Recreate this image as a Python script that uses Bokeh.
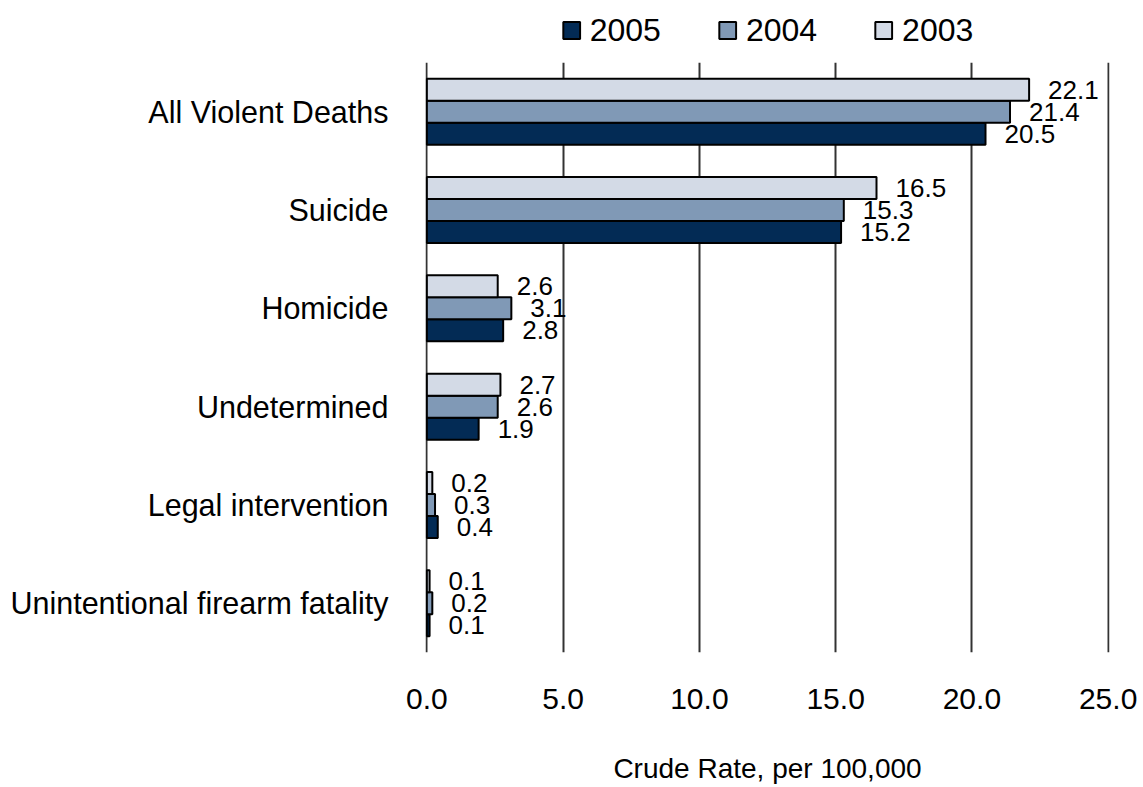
from bokeh.plotting import figure
from bokeh.layouts import column
from bokeh.models import (ColumnDataSource, FactorRange, Legend, LegendItem,
                          FixedTicker, NumeralTickFormatter, Range1d)
from bokeh.transform import dodge
from bokeh.core.properties import value
from bokeh.embed import file_html
from bokeh.resources import INLINE

categories = ["All Violent Deaths", "Suicide", "Homicide", "Undetermined",
              "Legal intervention", "Unintentional firearm fatality"]
years = ["2005", "2004", "2003"]
v2005 = [20.5, 15.2, 2.8, 1.9, 0.4, 0.1]
v2004 = [21.4, 15.3, 3.1, 2.6, 0.3, 0.2]
v2003 = [22.1, 16.5, 2.6, 2.7, 0.2, 0.1]
x_ticks = [0, 5, 10, 15, 20, 25]

colors = {"2005": "#032B55", "2004": "#8099B6", "2003": "#D3DAE6"}
offsets = {"2005": -0.224, "2004": 0.0, "2003": 0.224}
FONT = "Liberation Sans"
W = 1143
LEFT, RIGHT = 425, 34

src = ColumnDataSource(dict(
    cat=categories,
    v2005=v2005, v2004=v2004, v2003=v2003,
    l2005=[f"{v:.1f}" for v in v2005],
    l2004=[f"{v:.1f}" for v in v2004],
    l2003=[f"{v:.1f}" for v in v2003],
))

xr = Range1d(-0.05, 25.05)
yr = FactorRange(*reversed(categories))

# ---- main chart ----
p = figure(width=W, height=725, y_range=yr, x_range=xr,
           output_backend="svg", toolbar_location=None,
           min_border_left=LEFT, min_border_right=RIGHT,
           min_border_top=0, min_border_bottom=135)

for y in years:
    ydodge = dodge("cat", offsets[y], range=yr)
    p.hbar(y=ydodge, left=0, right="v" + y, height=0.224,
           fill_color=colors[y], line_color="black", line_width=2,
           source=src)
    p.text(x="v" + y, y=ydodge, text="l" + y, source=src,
           x_offset=19, text_align="left", text_baseline="middle",
           text_font=value(FONT), text_font_size="26px", text_color="black")

p.xaxis.ticker = FixedTicker(ticks=x_ticks)
p.xaxis.formatter = NumeralTickFormatter(format="0.0")
p.xaxis.axis_label = "Crude Rate, per 100,000"
p.xaxis.axis_label_text_font = FONT
p.xaxis.axis_label_text_font_size = "28px"
p.xaxis.axis_label_text_font_style = "normal"
p.xaxis.axis_label_standoff = 41
p.xaxis.major_label_text_font = FONT
p.xaxis.major_label_text_font_size = "30px"
p.xaxis.major_label_standoff = 36

p.yaxis.major_label_text_font = FONT
p.yaxis.major_label_text_font_size = "30.5px"
p.yaxis.major_label_standoff = 37

for ax in (p.xaxis, p.yaxis):
    ax.axis_line_color = None
    ax.major_tick_line_color = None
    ax.minor_tick_line_color = None
    ax.major_tick_out = 0
    ax.major_tick_in = 0
    ax.major_label_text_color = "black"
    ax.axis_label_text_color = "black"

p.ygrid.grid_line_color = None
p.xgrid.grid_line_color = "#333333"
p.xgrid.grid_line_width = 2
p.outline_line_color = None

# ---- legend strip (same scales, hidden bars only feed the legend swatches) ----
lg = figure(width=W, height=62, x_range=xr, y_range=yr,
            x_axis_type=None, y_axis_type=None,
            output_backend="svg", toolbar_location=None,
            min_border_left=LEFT, min_border_right=RIGHT,
            min_border_top=0, min_border_bottom=2)
lg.grid.visible = False
lg.outline_line_color = None
items = []
for y in years:
    r = lg.hbar(y=dodge("cat", offsets[y], range=yr), left=0, right="v" + y,
                height=0.224, source=src,
                fill_color=colors[y], line_color="black", line_width=2)
    r.visible = False
    items.append(LegendItem(label=y, renderers=[r], index=0))
legend = Legend(items=items, orientation="horizontal", location="center",
                glyph_width=21, glyph_height=21, label_standoff=8, spacing=56,
                padding=0, margin=0, border_line_color=None,
                background_fill_alpha=0,
                label_text_font=FONT, label_text_font_size="32px",
                label_text_color="black")
lg.add_layout(legend, "center")

layout = column(lg, p, spacing=0)
open("out.html", "w").write(file_html(layout, INLINE))
